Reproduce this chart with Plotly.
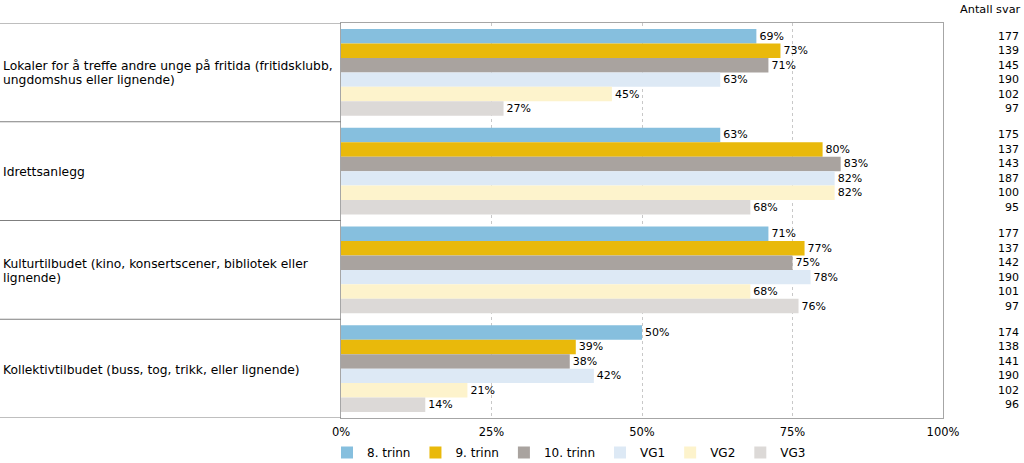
import plotly.graph_objects as go

categories = [
    "Lokaler for å treffe andre unge på fritida (fritidsklubb,<br>ungdomshus eller lignende)",
    "Idrettsanlegg",
    "Kulturtilbudet (kino, konsertscener, bibliotek eller<br>lignende)",
    "Kollektivtilbudet (buss, tog, trikk, eller lignende)",
]
series_names = ["8. trinn", "9. trinn", "10. trinn", "VG1", "VG2", "VG3"]
colors = ["#86BFDE", "#E9B90B", "#A9A39F", "#DDE9F5", "#FDF3CC", "#DCD9D7"]

v_8trinn = [69, 63, 71, 50]
v_9trinn = [73, 80, 77, 39]
v_10trinn = [71, 83, 75, 38]
v_vg1 = [63, 82, 78, 42]
v_vg2 = [45, 82, 68, 21]
v_vg3 = [27, 68, 76, 14]
values = [v_8trinn, v_9trinn, v_10trinn, v_vg1, v_vg2, v_vg3]

n_8trinn = [177, 175, 177, 174]
n_9trinn = [139, 137, 137, 138]
n_10trinn = [145, 143, 142, 141]
n_vg1 = [190, 187, 190, 190]
n_vg2 = [102, 100, 101, 102]
n_vg3 = [97, 95, 97, 96]
counts = [n_8trinn, n_9trinn, n_10trinn, n_vg1, n_vg2, n_vg3]

x_ticks = [0, 25, 50, 75, 100]

W, H = 1024, 463
ML, MR, MT, MB = 341, 81, 23, 45
PW = W - ML - MR
PH = H - MT - MB
FONT = "DejaVu Sans"
BARGAP = 0.12

ypos = list(range(len(categories)))
fig = go.Figure()
for name, col, vals in zip(series_names, colors, values):
    fig.add_trace(go.Bar(
        y=ypos, x=vals, name=name, orientation="h",
        marker=dict(color=col, line=dict(width=0)),
        text=[f"{v}%" for v in vals], textposition="outside",
        textfont=dict(size=11, color="#000000", family=FONT),
        constraintext="none", cliponaxis=False,
        hoverinfo="skip",
    ))

annotations = []
shapes = []
# category labels (one annotation per line for tighter line spacing)
LINE_PX = 14
for i, c in enumerate(categories):
    lines = c.split("<br>")
    for k, ln in enumerate(lines):
        annotations.append(dict(
            xref="paper", yref="y", x=-(ML - 1) / PW, y=i, text=ln,
            yshift=-(k - (len(lines) - 1) / 2) * LINE_PX - 1,
            xanchor="left", yanchor="middle", align="left", showarrow=False,
            font=dict(size=12.3, color="#000000", family=FONT),
        ))
# response counts
nser = len(series_names)
w = (1 - BARGAP) / nser
for j, cnts in enumerate(counts):
    for i, n in enumerate(cnts):
        annotations.append(dict(
            xref="paper", yref="y", x=(W - 3 - ML) / PW,
            y=i + (j - (nser - 1) / 2) * w, text=str(n),
            xanchor="right", yanchor="middle", showarrow=False,
            font=dict(size=11, color="#000000", family=FONT),
        ))
annotations.append(dict(
    xref="paper", yref="paper", x=(W - 1 - ML) / PW, y=1 + (MT - 9) / PH,
    text="Antall svar", xanchor="right", yanchor="middle", showarrow=False,
    font=dict(size=11.3, color="#000000", family=FONT),
))
# label column separators
for k in range(len(categories) + 1):
    shapes.append(dict(
        type="line", xref="paper", yref="y", x0=-ML / PW, x1=0,
        y0=k - 0.5, y1=k - 0.5, line=dict(color="#7F7F7F", width=1),
    ))

fig.update_layout(
    width=W, height=H,
    margin=dict(l=ML, r=MR, t=MT, b=MB, autoexpand=False),
    paper_bgcolor="white", plot_bgcolor="white",
    barmode="group", bargap=BARGAP, bargroupgap=0,
    font=dict(family=FONT, size=11, color="#000000"),
    xaxis=dict(
        range=[0, 100], tickvals=x_ticks, ticktext=[f"{t}%" for t in x_ticks],
        showgrid=True, gridcolor="#C8C8C8", griddash="dot", gridwidth=1,
        zeroline=False, showline=True, mirror=True, linecolor="#A6A6A6",
        ticks="", ticklabelstandoff=3,
        tickfont=dict(size=11.5, color="#000000", family=FONT),
    ),
    yaxis=dict(
        range=[len(categories) - 0.5, -0.5], showticklabels=False,
        showgrid=False, zeroline=False, showline=True, mirror=True,
        linecolor="#A6A6A6", ticks="",
    ),
    legend=dict(
        orientation="h", x=-14 / PW, xanchor="left",
        yref="paper", y=-20 / PH, yanchor="top",
        font=dict(size=12, color="#000000", family=FONT),
        itemwidth=30, tracegroupgap=0, traceorder="normal",
    ),
    annotations=annotations, shapes=shapes,
    showlegend=True,
)

fig.write_html("out.html", config={"displayModeBar": False},
               post_script="document.body.style.margin='0';")
